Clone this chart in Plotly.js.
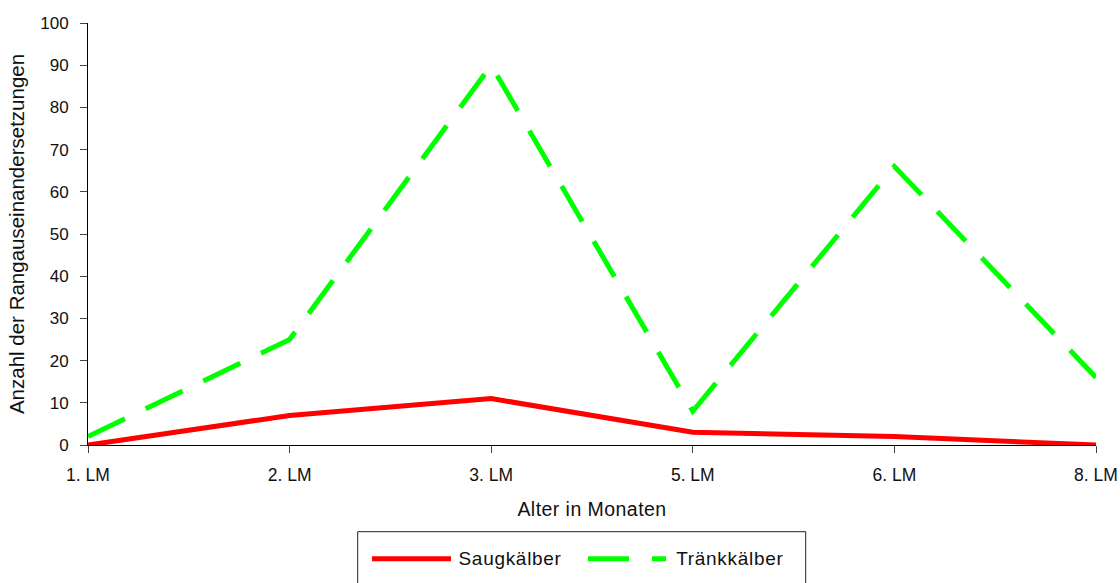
<!DOCTYPE html>
<html>
<head>
<meta charset="utf-8">
<script src="https://cdn.plot.ly/plotly-3.0.1.min.js"></script>
<style>
html,body{margin:0;padding:0;background:#fff}
#chart{width:1120px;height:583px}
#chart .annotation-text{letter-spacing:0.7px}
#chart .xtitle{letter-spacing:0.45px}
</style>
</head>
<body>
<div id="chart"></div>
<script>
const categories = ["1. LM", "2. LM", "3. LM", "5. LM", "6. LM", "8. LM"];
const seriesNames = ["Saugkälber", "Tränkkälber"];
const saugkaelber = [0, 7, 11, 3, 2, 0];
const traenkkaelber = [2, 25, 90, 8, 66, 16];
const yTicks = [0, 10, 20, 30, 40, 50, 60, 70, 80, 90, 100];

const font = "Arial, 'Liberation Sans', sans-serif";
const red = "#ff0000", green = "#00ff00";
const greenDash = "41px,23px";

const traces = [
  {
    x: categories, y: saugkaelber, name: seriesNames[0], type: "scatter", mode: "lines",
    line: {color: red, width: 5}
  },
  {
    x: categories, y: traenkkaelber, name: seriesNames[1], type: "scatter", mode: "lines",
    line: {color: green, width: 5, dash: greenDash}
  }
];

// custom legend (paper coordinates) to match the long legend samples
const px = v => (v - 88) / 1008;
const py = v => (445 - v) / 422;
const legY = py(558.7);

const layout = {
  width: 1120, height: 583,
  margin: {l: 88, r: 24, t: 23, b: 138},
  paper_bgcolor: "#fff", plot_bgcolor: "#fff",
  font: {family: font, color: "#000", size: 14},
  showlegend: false,
  xaxis: {
    type: "category", range: [0, 5],
    showline: true, linecolor: "#000", linewidth: 1,
    ticks: "outside", ticklen: 7, tickcolor: "#444",
    ticklabelstandoff: 7,
    showgrid: false, zeroline: false,
    tickfont: {size: 17.5, color: "#111"},
    title: {text: "Alter in Monaten", font: {size: 19.5, color: "#111"}, standoff: 18}
  },
  yaxis: {
    range: [0, 100], tickvals: yTicks,
    showline: true, linecolor: "#000", linewidth: 1,
    ticks: "outside", ticklen: 7, tickcolor: "#444",
    ticklabelstandoff: 8,
    showgrid: false, zeroline: false,
    tickfont: {size: 17, color: "#111"},
    title: {text: "Anzahl der Rangauseinandersetzungen", font: {size: 20.5, color: "#111"}, standoff: 10}
  },
  shapes: [
    {type: "rect", xref: "paper", yref: "paper", x0: px(357.7), x1: px(805.7), y0: py(531.7), y1: py(600),
     line: {color: "#222", width: 1}, fillcolor: "rgba(0,0,0,0)"},
    {type: "line", xref: "paper", yref: "paper", x0: px(372), x1: px(451), y0: legY, y1: legY,
     line: {color: red, width: 5}},
    {type: "line", xref: "paper", yref: "paper", x0: px(588), x1: px(666), y0: legY, y1: legY,
     line: {color: green, width: 5, dash: greenDash}}
  ],
  annotations: [
    {xref: "paper", yref: "paper", x: px(460), y: legY, xanchor: "left", yanchor: "middle",
     text: seriesNames[0], showarrow: false, font: {size: 19, color: "#111"}},
    {xref: "paper", yref: "paper", x: px(678), y: legY, xanchor: "left", yanchor: "middle",
     text: seriesNames[1], showarrow: false, font: {size: 19, color: "#111"}}
  ]
};

Plotly.newPlot("chart", traces, layout, {displayModeBar: false, staticPlot: true});
</script>
</body>
</html>
